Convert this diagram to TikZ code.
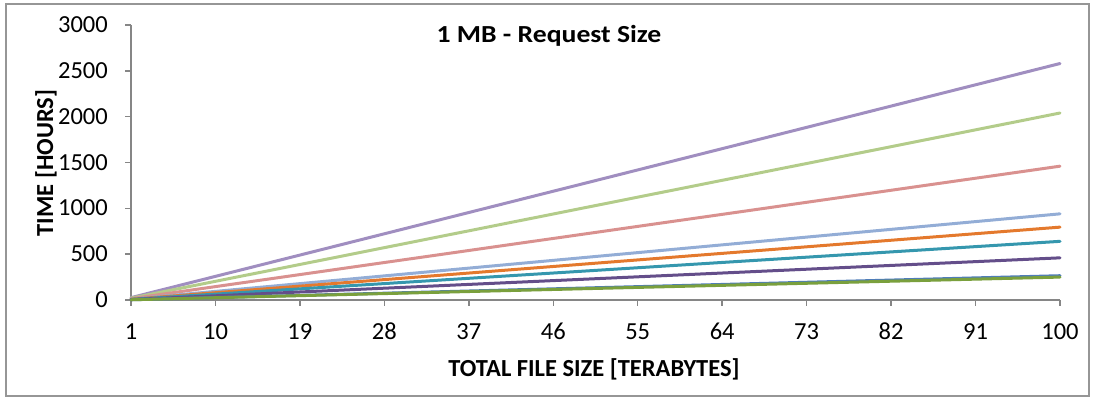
\documentclass[tikz,border=0pt]{standalone}
\usepackage{fontspec}
\setmainfont{Carlito}
\usepackage{tikz}

\definecolor{axisgray}{RGB}{134,134,134}
\definecolor{framegray}{RGB}{150,150,150}
\definecolor{purplelight}{RGB}{160,142,192}
\definecolor{greenlight}{RGB}{179,204,138}
\definecolor{redlight}{RGB}{217,145,143}
\definecolor{bluelight}{RGB}{147,173,214}
\definecolor{orangemid}{RGB}{228,121,45}
\definecolor{tealmid}{RGB}{53,151,174}
\definecolor{purpledark}{RGB}{100,78,138}
\definecolor{bluemid}{RGB}{79,125,184}
\definecolor{greendark}{RGB}{122,160,61}

\tikzset{
    ticklabel/.style={inner sep=0pt, font=\fontsize{24.5}{28}\selectfont},
    axistitle/.style={inner sep=0pt, font=\fontsize{24.5}{28}\selectfont\bfseries},
    series/.style={line width=3pt, line cap=round}
}

\begin{document}
\begin{tikzpicture}[x=1pt,y=1pt]
                \useasboundingbox (0,0) rectangle (1094,400);
                \draw[framegray, line width=1.2pt] (6,4) rectangle (1089,396);
                % title and axis titles
                \node[axistitle, anchor=base] (title) at (549,358) {\scalebox{1.13}[1]{1 MB - Request Size}};
                \node[axistitle, anchor=base] (xtitle) at (594,24) {TOTAL FILE SIZE [TERABYTES]};
                \node[axistitle, anchor=base, rotate=90] (ytitle) at (53,237) {TIME [HOURS]};
                % y tick labels
                \node[ticklabel, anchor=base east] (y0) at (108,92.5) {0};
                \node[ticklabel, anchor=base east] (y500) at (108,138.3) {500};
                \node[ticklabel, anchor=base east] (y1000) at (108,184.2) {1000};
                \node[ticklabel, anchor=base east] (y1500) at (108,230) {1500};
                \node[ticklabel, anchor=base east] (y2000) at (108,275.8) {2000};
                \node[ticklabel, anchor=base east] (y2500) at (108,321.7) {2500};
                \node[ticklabel, anchor=base east] (y3000) at (108,367.5) {3000};
                % x tick labels
                \node[ticklabel, anchor=base] (x1) at (131,61) {1};
                \node[ticklabel, anchor=base] (x10) at (215.5,61) {10};
                \node[ticklabel, anchor=base] (x19) at (299.9,61) {19};
                \node[ticklabel, anchor=base] (x28) at (384.4,61) {28};
                \node[ticklabel, anchor=base] (x37) at (468.8,61) {37};
                \node[ticklabel, anchor=base] (x46) at (553.3,61) {46};
                \node[ticklabel, anchor=base] (x55) at (637.7,61) {55};
                \node[ticklabel, anchor=base] (x64) at (722.2,61) {64};
                \node[ticklabel, anchor=base] (x73) at (806.6,61) {73};
                \node[ticklabel, anchor=base] (x82) at (891.1,61) {82};
                \node[ticklabel, anchor=base] (x91) at (975.5,61) {91};
                \node[ticklabel, anchor=base] (x100) at (1060,61) {100};
                % axes and ticks
                \draw[axisgray, line width=1.5pt] (131,375) -- (131,100) -- (1060,100);
                \foreach \yy in {100,145.83,191.67,237.5,283.33,329.17,375}
                    \draw[axisgray, line width=1.5pt] (125,\yy) -- (131,\yy);
                \foreach \xx in {131,215.45,299.91,384.36,468.82,553.27,637.73,722.18,806.64,891.09,975.55,1060}
                    \draw[axisgray, line width=1.5pt] (\xx,100) -- (\xx,94);
                % series, hours = k * terabytes
                \begin{scope}[shift={(121.616,100)}, x=9.3838pt, y=0.091667pt]
                    \draw[series, purplelight] (1,25.8) -- (100,2580);
                    \draw[series, greenlight] (1,20.4) -- (100,2040);
                    \draw[series, redlight] (1,14.6) -- (100,1460);
                    \draw[series, bluelight] (1,9.4) -- (100,940);
                    \draw[series, orangemid] (1,7.95) -- (100,795);
                    \draw[series, tealmid] (1,6.4) -- (100,640);
                    \draw[series, purpledark] (1,4.6) -- (100,460);
                    \draw[series, bluemid] (1,2.65) -- (100,265);
                    \draw[series, greendark] (1,2.5) -- (100,250);
                \end{scope}
\end{tikzpicture}
\end{document}
